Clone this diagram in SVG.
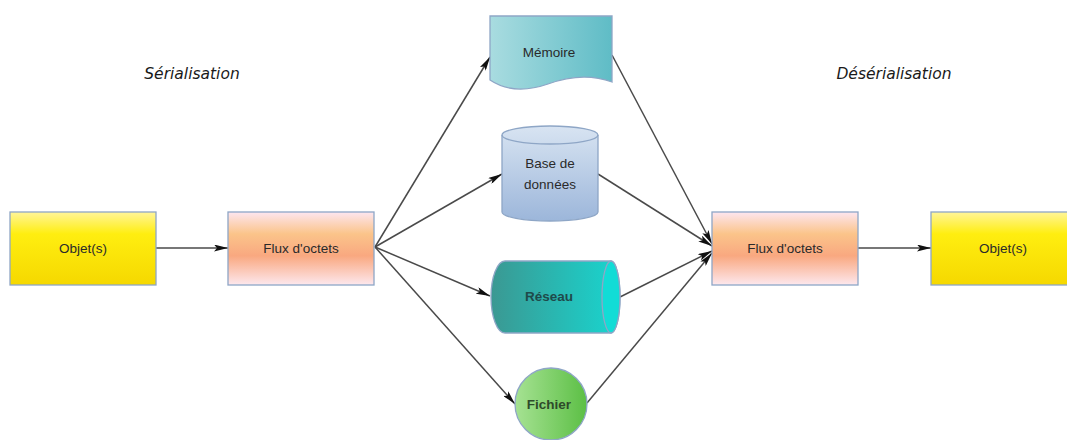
<svg xmlns="http://www.w3.org/2000/svg" width="1067" height="440" viewBox="0 0 1067 440">
<defs>
<linearGradient id="gYellow" x1="0" y1="0" x2="0" y2="1">
<stop offset="0" stop-color="#fff59a"/>
<stop offset="0.3" stop-color="#ffee10"/>
<stop offset="1" stop-color="#f5d800"/>
</linearGradient>
<linearGradient id="gFlux" x1="0" y1="0" x2="0" y2="1">
<stop offset="0" stop-color="#fde6f0"/>
<stop offset="0.3" stop-color="#fbc48a"/>
<stop offset="0.6" stop-color="#f9a880"/>
<stop offset="1" stop-color="#fde8ee"/>
</linearGradient>
<linearGradient id="gMem" x1="0" y1="0" x2="1" y2="0">
<stop offset="0" stop-color="#a9dce0"/>
<stop offset="1" stop-color="#5fbcc6"/>
</linearGradient>
<linearGradient id="gBase" x1="0" y1="0" x2="0" y2="1">
<stop offset="0" stop-color="#d8e4f2"/>
<stop offset="1" stop-color="#9cb6da"/>
</linearGradient>
<linearGradient id="gRes" x1="0" y1="0" x2="1" y2="0">
<stop offset="0" stop-color="#3b9892"/>
<stop offset="1" stop-color="#18d6d0"/>
</linearGradient>
<linearGradient id="gFic" x1="0" y1="0" x2="1" y2="0">
<stop offset="0" stop-color="#a6e293"/>
<stop offset="1" stop-color="#5cbf45"/>
</linearGradient>
<marker id="arr" viewBox="0 0 14 7" refX="14" refY="3.5" markerWidth="14" markerHeight="7" markerUnits="userSpaceOnUse" orient="auto">
<path d="M0,0 L14,3.5 L0,7 L3,3.5 Z" fill="#111"/>
</marker>
<style>
.box{stroke:#8ea6c6;stroke-width:1.3}
.lbl{font-family:"Liberation Sans",Arial,sans-serif;font-size:13.5px;fill:#2a2a2a;text-anchor:middle;dominant-baseline:central}
.title{font-family:"DejaVu Sans",Verdana,sans-serif;font-style:italic;font-size:15.5px;fill:#1a1a1a;text-anchor:middle}
.con{stroke:#4a4a4a;stroke-width:1.5;fill:none;marker-end:url(#arr)}
</style>
</defs>
<rect width="1067" height="440" fill="#ffffff"/>
<text class="title" x="192" y="79">Sérialisation</text>
<text class="title" x="894" y="79">Désérialisation</text>
<g id="connectors">
<line class="con" x1="156" y1="248" x2="228" y2="248"/>
<line class="con" x1="375" y1="247" x2="490" y2="57"/>
<line class="con" x1="375" y1="247" x2="502" y2="174"/>
<line class="con" x1="375" y1="247" x2="490" y2="296"/>
<line class="con" x1="375" y1="247" x2="515" y2="404"/>
<line class="con" x1="612" y1="55" x2="712" y2="244"/>
<line class="con" x1="598" y1="174" x2="712" y2="246"/>
<line class="con" x1="620" y1="297" x2="712" y2="251"/>
<line class="con" x1="587" y1="403" x2="712" y2="253"/>
<line class="con" x1="858" y1="248" x2="931" y2="248"/>
</g>
<g id="objet1">
<rect class="box" x="10" y="212" width="146" height="73" fill="url(#gYellow)"/>
<text class="lbl" x="83" y="248">Objet(s)</text>
</g>
<g id="flux1">
<rect class="box" x="228" y="212" width="146" height="73" fill="url(#gFlux)"/>
<text class="lbl" x="301" y="248">Flux d'octets</text>
</g>
<g id="memoire">
<path class="box" d="M490,16 L612,16 L612,82 C590,74 570,76 548,84 C525,92 505,90 490,80 Z" fill="url(#gMem)"/>
<text class="lbl" x="549" y="52">Mémoire</text>
</g>
<g id="base">
<path class="box" d="M502,135 L502,212 A48,9 0 0 0 598,212 L598,135 A48,9 0 0 0 502,135 Z" fill="url(#gBase)"/>
<path class="box" d="M502,135 A48,9 0 0 0 598,135" fill="none"/>
<text class="lbl" x="550" y="163">Base de</text>
<text class="lbl" x="550" y="184">données</text>
</g>
<g id="reseau">
<path class="box" d="M505,261 L611,261 A9,36 0 0 1 611,333 L505,333 A14,36 0 0 1 505,261 Z" fill="url(#gRes)"/>
<path class="box" d="M611,261 A9,36 0 0 0 611,333 A9,36 0 0 0 611,261 Z" fill="#12dcd6"/>
<text class="lbl" x="549" y="296" style="font-weight:bold;fill:#1f4a4a">Réseau</text>
</g>
<g id="fichier">
<circle class="box" cx="551" cy="404" r="36" fill="url(#gFic)"/>
<text class="lbl" x="549" y="404" style="font-weight:bold;fill:#2e4a2a">Fichier</text>
</g>
<g id="flux2">
<rect class="box" x="712" y="212" width="146" height="73" fill="url(#gFlux)"/>
<text class="lbl" x="785" y="248">Flux d'octets</text>
</g>
<g id="objet2">
<rect class="box" x="931" y="212" width="146" height="73" fill="url(#gYellow)"/>
<text class="lbl" x="1003" y="248">Objet(s)</text>
</g>
</svg>
